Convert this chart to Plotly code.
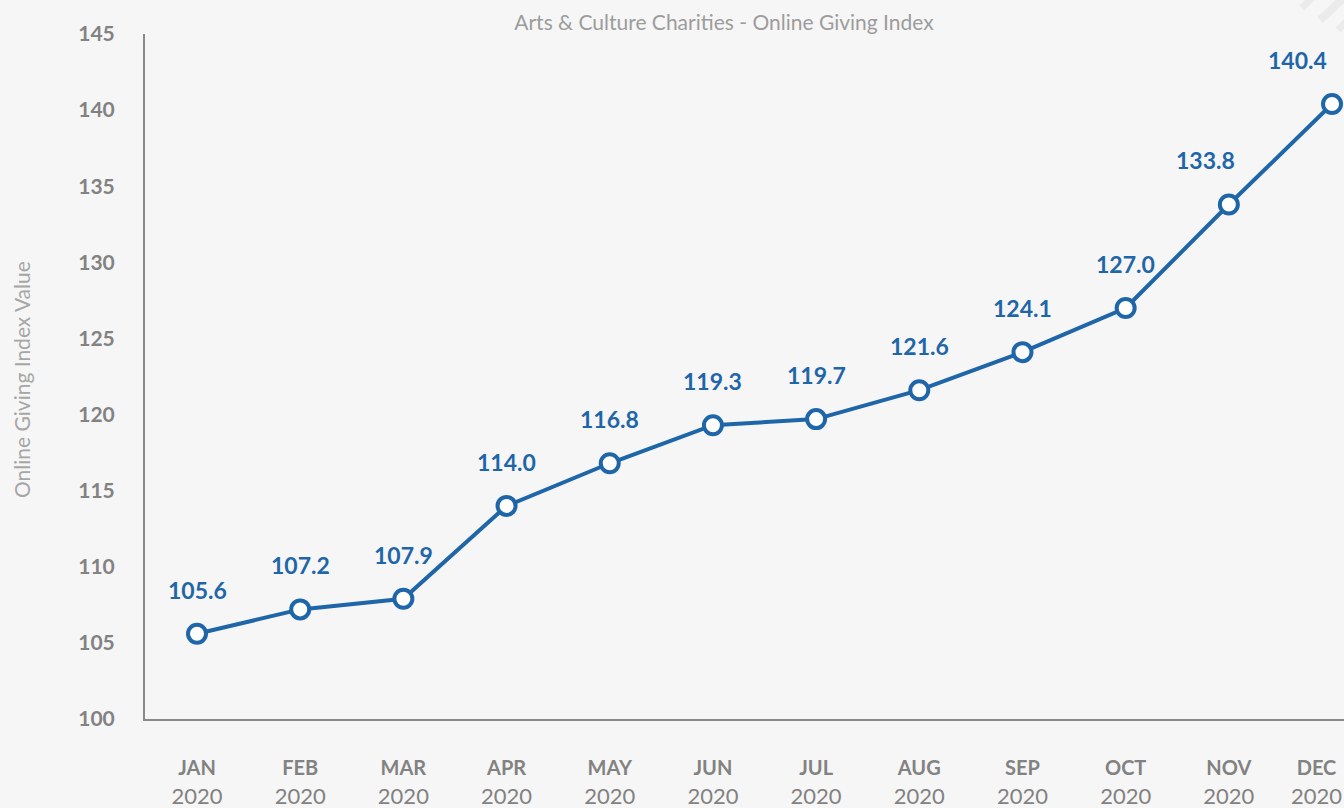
import plotly.graph_objects as go

months = ["JAN", "FEB", "MAR", "APR", "MAY", "JUN", "JUL", "AUG", "SEP", "OCT", "NOV", "DEC"]
years = ["2020"] * 12
values = [105.6, 107.2, 107.9, 114.0, 116.8, 119.3, 119.7, 121.6, 124.1, 127.0, 133.8, 140.4]
y_ticks = [100, 105, 110, 115, 120, 125, 130, 135, 140, 145]

BLUE = "#1f66a9"
GRAY = "#828282"
BG = "#f6f6f6"
FONT = "Lato"

W, H = 1344, 808
L, T, B = 145, 34, 89
PW, PH = W - L, H - T - B


def px_x(p):
    return (p - L) / PW


def px_y(p):
    return (H - B - p) / PH


def label(m, y):
    return f"<span style='font-size:20px'><b>{m}</b></span><br>{y}"


x = list(range(len(months)))
n = len(months)
# last label is drawn as a shifted annotation (it would overflow the right edge)
ticktext = [label(m, y) if i < n - 1 else "" for i, (m, y) in enumerate(zip(months, years))]

fig = go.Figure()
fig.add_trace(go.Scatter(
    x=x, y=values, mode="lines+markers",
    line=dict(color=BLUE, width=4),
    marker=dict(size=18, color="white", line=dict(color=BLUE, width=4)),
    cliponaxis=False, hoverinfo="skip", showlegend=False,
))

for i, v in enumerate(values):
    xs = 0
    if i == n - 1:
        xs = -35
    elif i == n - 2:
        xs = -23
    fig.add_annotation(
        x=i, y=v, text=f"<b>{v:.1f}</b>", showarrow=False,
        yshift=44, xshift=xs, font=dict(family=FONT, size=23, color=BLUE),
    )

fig.add_annotation(
    x=x[-1], xref="x", y=0, yref="paper", yanchor="middle", yshift=-63,
    xshift=-16, text=label(months[-1], years[-1]), showarrow=False,
    font=dict(family=FONT, size=22, color=GRAY),
)

fig.add_annotation(
    xref="paper", yref="paper", x=px_x(21), y=px_y(380), xanchor="center", yanchor="middle",
    text="Online Giving Index Value",
    textangle=-90, showarrow=False, font=dict(family=FONT, size=21, color="#a6a6a6"),
)

# faint decorative stripes in the top-right corner
for (x0, y0, x1, y1, w) in [(1302, 8, 1312, -2, 7), (1320, 20, 1346, -4, 8), (1338, 30, 1348, 20, 7)]:
    fig.add_shape(type="line", xref="paper", yref="paper",
                  x0=px_x(x0), y0=px_y(y0), x1=px_x(x1), y1=px_y(y1),
                  line=dict(color="#ebebeb", width=w), layer="below")

fig.update_layout(
    width=W, height=H,
    paper_bgcolor=BG, plot_bgcolor=BG,
    margin=dict(l=L, r=0, t=T, b=B),
    font=dict(family=FONT, color=GRAY),
    title=dict(
        text="Arts & Culture Charities - Online Giving Index",
        x=724 / W, xanchor="center", xref="container",
        y=1 - 23 / H, yanchor="middle", yref="container",
        font=dict(family=FONT, size=21, color="#9c9c9c"),
    ),
    xaxis=dict(
        range=[-0.504, 11.116], tickmode="array", tickvals=x, ticktext=ticktext,
        showgrid=False, zeroline=False, showline=True, linecolor="#8a8a8a", linewidth=2,
        ticks="", tickfont=dict(family=FONT, size=22, color=GRAY), ticklabelstandoff=28,
        ticklabeloverflow="allow",
    ),
    yaxis=dict(
        range=[100, 145], tickmode="array", tickvals=y_ticks,
        ticktext=[f"<b>{t}</b>" for t in y_ticks],
        showgrid=False, zeroline=False, showline=True, linecolor="#8a8a8a", linewidth=2,
        ticks="", tickfont=dict(family=FONT, size=21, color=GRAY), ticklabelstandoff=24,
    ),
)

fig.write_html("out.html", config={"displayModeBar": False},
               post_script="document.body.style.margin='0';")
